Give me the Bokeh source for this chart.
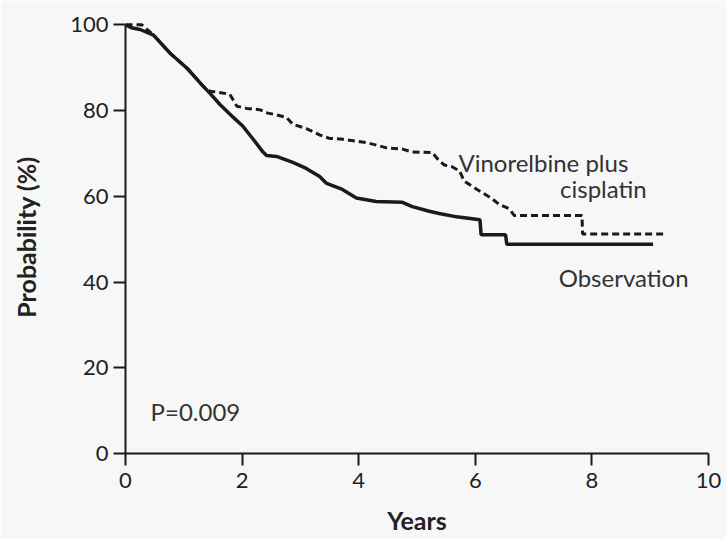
from bokeh.plotting import figure
from bokeh.models import Range1d, FixedTicker, Label
from bokeh.embed import file_html
from bokeh.resources import INLINE

# Kaplan-Meier estimates (% event-free), read as (years, probability)
obs_years = [0, 0.10, 0.25, 0.48, 0.77, 1.06, 1.33, 1.45, 1.62, 1.85, 2.01, 2.19,
             2.36, 2.42, 2.59, 2.87, 3.10, 3.33, 3.45, 3.72, 3.96, 4.30, 4.75,
             4.92, 5.21, 5.38, 5.68, 6.08, 6.10, 6.52, 6.54, 9.05]
obs_prob = [100, 99.3, 98.9, 97.6, 93.3, 89.8, 85.7, 84.0, 81.4, 78.4, 76.4, 73.3,
            70.3, 69.5, 69.3, 67.9, 66.5, 64.6, 63.0, 61.6, 59.6, 58.8, 58.6,
            57.6, 56.5, 56.0, 55.2, 54.5, 51.0, 51.0, 48.8, 48.8]

vin_years = [0, 0.28, 0.48, 0.77, 1.06, 1.33, 1.45, 1.57, 1.79, 1.91, 2.08, 2.30,
             2.44, 2.59, 2.76, 2.87, 3.10, 3.33, 3.50, 3.73, 4.14, 4.48, 4.75,
             4.92, 5.26, 5.38, 5.47, 5.60, 5.73, 5.81, 6.03, 6.27, 6.41, 6.58,
             6.67, 7.83, 7.84, 9.27]
vin_prob = [100, 100, 97.6, 93.3, 89.8, 85.7, 84.5, 84.3, 83.8, 81.0, 80.5, 80.2,
            79.4, 79.0, 78.4, 76.8, 75.8, 74.3, 73.5, 73.3, 72.5, 71.3, 71.0,
            70.3, 70.2, 68.3, 67.3, 66.9, 65.9, 63.5, 61.6, 59.6, 58.1, 57.1,
            55.5, 55.5, 51.2, 51.2]

x_ticks = [0, 2, 4, 6, 8, 10]
y_ticks = [0, 20, 40, 60, 80, 100]

FONT = "Lato"
INK = "#1a1a1a"
BG = "#f7f7f7"

p = figure(width=726, height=539, output_backend="svg", toolbar_location=None,
           x_range=Range1d(0, 10), y_range=Range1d(0, 101),
           min_border_left=125, min_border_right=18, min_border_top=20,
           min_border_bottom=86)
p.background_fill_color = BG
p.border_fill_color = BG
p.outline_line_color = None
p.xgrid.visible = False
p.ygrid.visible = False

p.line(vin_years, vin_prob, line_color=INK, line_width=3, line_dash="7 4")
p.line(obs_years, obs_prob, line_color=INK, line_width=3.5)

for ax in (p.xaxis[0], p.yaxis[0]):
    ax.axis_line_color = INK
    ax.axis_line_width = 2
    ax.major_tick_line_color = INK
    ax.major_tick_line_width = 2
    ax.major_tick_out = 12
    ax.major_tick_in = 0
    ax.minor_tick_line_color = None
    ax.major_label_text_font = FONT
    ax.major_label_text_font_size = "22px"
    ax.major_label_text_color = "#222222"
    ax.axis_label_text_font = FONT
    ax.axis_label_text_font_size = "25px"
    ax.axis_label_text_font_style = "bold"
    ax.axis_label_text_color = "#222222"

p.xaxis.ticker = FixedTicker(ticks=x_ticks)
p.yaxis.ticker = FixedTicker(ticks=y_ticks)
p.xaxis.bounds = (0, 10)
p.yaxis.bounds = (0, 100)
p.xaxis.axis_label = "Years"
p.yaxis.axis_label = "Probability (%)"
p.xaxis.major_label_standoff = 7
p.yaxis.major_label_standoff = 5
p.xaxis.axis_label_standoff = 14
p.yaxis.axis_label_standoff = 26

def note(text, x, y, align="left"):
    p.add_layout(Label(x=x, y=y, text=text, text_font=FONT, text_font_size="24px",
                       text_color="#333333", text_align=align,
                       text_baseline="alphabetic"))

note("Vinorelbine plus", 5.71, 67.9)
note("cisplatin", 8.94, 61.8, align="right")
note("Observation", 7.43, 41.0)
note("P=0.009", 0.43, 9.7)

open("out.html", "w").write(file_html(p, INLINE))
